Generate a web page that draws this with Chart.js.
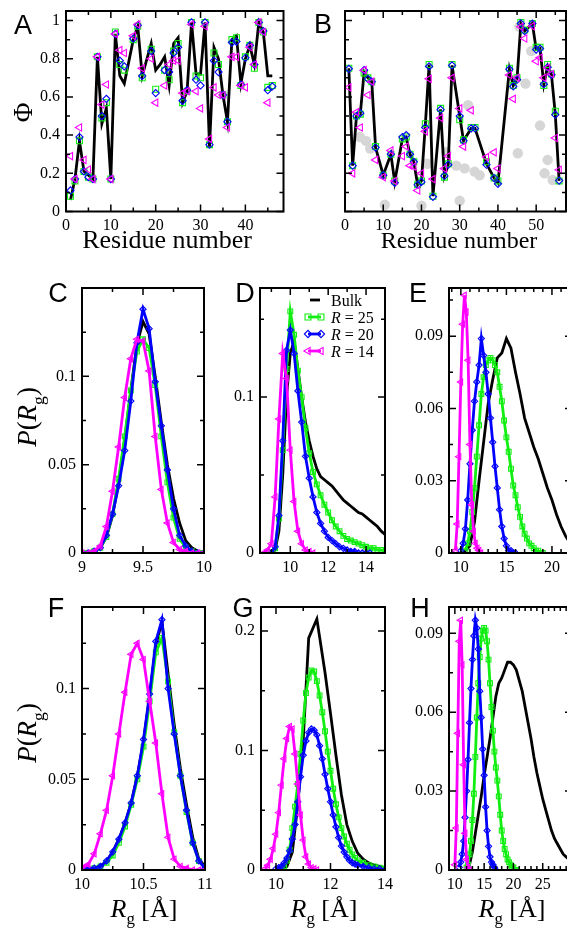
<!DOCTYPE html>
<html>
<head>
<meta charset="utf-8">
<script src="https://cdn.jsdelivr.net/npm/chart.js@4.4.0/dist/chart.umd.min.js"></script>
<style>
  html, body { margin: 0; padding: 0; background: #fff; width: 567px; height: 929px; overflow: hidden; position: relative; }
  canvas { position: absolute; }
</style>
</head>
<body>
<script>
// ---- panel A: phi values per residue (1..46) ----
const aBulk = [0.06, 0.17, 0.37, 0.21, 0.19, 0.17, 0.81, 0.46, 0.54, 0.17,
  0.93, 0.71, 0.67, null, 0.90, 0.97, 0.71, null, 0.88, 0.74,
  0.77, 0.81, 0.66, 0.88, 0.91, 0.57, 0.63, 0.99, 0.72, 0.72,
  0.99, 0.34, 0.86, 0.80, 0.61, 0.47, 0.90, 0.92, 0.67, 0.80,
  0.87, 0.77, 0.99, 0.94, 0.71, 0.71];
const aR25 = [0.08, 0.16, 0.37, 0.21, 0.18, 0.17, 0.81, 0.49, 0.57, 0.17,
  0.94, 0.77, 0.74, null, 0.90, 0.97, 0.70, null, 0.85, 0.64,
  null, 0.74, 0.69, 0.84, 0.88, 0.57, 0.63, 0.99, 0.71, 0.70,
  0.99, 0.35, 0.83, 0.77, 0.61, 0.47, 0.90, 0.91, 0.66, 0.81,
  0.87, 0.75, 0.99, 0.94, 0.65, 0.66];
const aR20 = [0.11, 0.17, 0.39, 0.21, 0.18, 0.17, 0.81, 0.50, 0.59, 0.17,
  0.93, 0.79, 0.76, null, 0.905, 0.975, 0.71, null, 0.84, 0.62,
  null, 0.74, 0.73, 0.83, 0.86, 0.58, 0.635, 0.99, 0.69, 0.66,
  0.99, 0.35, 0.79, 0.73, 0.61, 0.47, 0.885, 0.89, 0.665, 0.805,
  0.87, 0.77, 0.99, 0.945, 0.635, 0.655];
const aR14 = [0.29, 0.17, 0.44, 0.27, 0.22, 0.17, 0.81, 0.56, 0.665, 0.17,
  0.93, 0.845, 0.83, null, 0.92, 0.98, 0.75, null, 0.80, 0.57,
  null, 0.66, 0.77, 0.79, 0.79, 0.62, 0.63, 0.98, 0.63, 0.54,
  0.97, 0.38, 0.65, 0.61, 0.61, 0.44, 0.81, 0.81, 0.66, 0.65,
  0.86, 0.77, 0.99, 0.94, 0.57, null];

// ---- panel B: phi values per residue (1..56) ----
const bBulk = [0.75, 0.24, 0.50, 0.51, 0.73, 0.70, 0.68, 0.335, null, 0.19,
  null, 0.30, 0.155, null, 0.38, 0.39, 0.30, 0.26, 0.14, 0.16,
  0.45, 0.77, 0.08, null, 0.535, 0.185, 0.245, 0.765, null, 0.50,
  0.37, null, 0.435, 0.435, null, null, 0.25, null, 0.175, 0.15,
  null, null, 0.745, 0.66, 0.695, 0.985, 0.945, null, 0.985, 0.85,
  0.855, 0.665, 0.76, 0.715, 0.51, 0.16];
const bR25 = [0.75, 0.24, 0.50, 0.51, 0.725, 0.70, 0.68, 0.34, null, 0.19,
  null, 0.30, 0.16, null, 0.38, 0.39, 0.30, 0.26, 0.14, 0.16,
  0.46, 0.77, 0.08, null, 0.54, 0.18, 0.25, 0.77, null, 0.48,
  0.375, null, 0.44, 0.44, null, null, 0.26, null, 0.175, 0.16,
  null, null, 0.75, 0.66, 0.70, 0.99, 0.95, null, 0.985, 0.86,
  0.86, 0.66, 0.77, 0.72, 0.525, 0.16];
const bR20 = [0.747, 0.24, 0.50, 0.515, 0.74, 0.695, 0.68, 0.335, null, 0.19,
  null, 0.30, 0.15, null, 0.39, 0.40, 0.30, 0.26, 0.14, 0.155,
  0.44, 0.76, 0.077, null, 0.533, 0.186, 0.245, 0.765, null, 0.50,
  0.37, null, 0.435, 0.435, null, null, 0.245, null, 0.175, 0.145,
  null, null, 0.745, 0.655, 0.69, 0.985, 0.945, null, 0.984, 0.848,
  0.853, 0.667, 0.755, 0.716, 0.507, 0.162];
const bR14 = [0.65, 0.20, 0.52, 0.44, 0.74, 0.61, 0.68, 0.27, null, 0.18,
  null, 0.32, 0.16, null, 0.29, 0.34, 0.24, 0.235, 0.11, 0.20,
  0.42, 0.695, 0.17, null, 0.49, 0.225, 0.29, 0.70, null, 0.54,
  0.34, null, 0.53, null, null, null, 0.285, null, 0.31, 0.225,
  null, null, 0.715, 0.59, 0.70, 0.967, 0.906, null, 0.97, 0.787,
  0.805, 0.70, 0.753, 0.72, 0.385, 0.218];
// grey discs behind panel B: [residue, phi]
const bGray = [[3.9, 0.39], [5.5, 0.37], [6.6, 0.33], [10.4, 0.035], [20, 0.03], [21.5, 0.25],
  [26.5, 0.31], [29.1, 0.24], [30, 0.056], [31.3, 0.226], [32.2, 0.557], [33.9, 0.209],
  [35.2, 0.19], [45.2, 0.305], [45.6, 0.967], [47.2, 0.67], [48.7, 0.84], [51, 0.45],
  [52.2, 0.2], [53, 0.27], [54.3, 0.165]];

// ---- panel C: P(Rg) ----
const cRg = [9.00, 9.05, 9.10, 9.15, 9.20, 9.25, 9.30, 9.35, 9.40, 9.45, 9.50,
  9.55, 9.60, 9.65, 9.70, 9.75, 9.80, 9.85, 9.90, 9.95, 10.00];
const cBulk = [0, 0, 0.001, 0.003, 0.009, 0.021, 0.040, 0.064, 0.092, 0.118, 0.131,
  0.124, 0.100, 0.074, 0.050, 0.031, 0.017, 0.007, 0.003, 0.001, 0];
const cR25 = [0, 0, 0.001, 0.003, 0.009, 0.022, 0.042, 0.066, 0.092, 0.114, 0.121,
  0.116, 0.095, 0.066, 0.040, 0.020, 0.008, 0.003, 0.001, 0, 0];
const cR20 = [0, 0, 0.001, 0.003, 0.010, 0.022, 0.038, 0.058, 0.086, 0.119, 0.138,
  0.127, 0.097, 0.072, 0.047, 0.025, 0.010, 0.004, 0.001, 0, 0];
const cR14 = [0, 0, 0.001, 0.004, 0.015, 0.035, 0.060, 0.088, 0.110, 0.121, 0.120,
  0.103, 0.066, 0.036, 0.017, 0.006, 0.002, 0.001, 0, 0, 0];

// ---- panel D ----
const dRg = [8.6, 8.8, 9.0, 9.2, 9.4, 9.6, 9.8, 10.0, 10.2, 10.4, 10.6, 10.8, 11.0,
  11.2, 11.4, 11.6, 11.8, 12.0, 12.2, 12.4, 12.6, 12.8, 13.0, 13.2, 13.4, 13.6,
  13.8, 14.0, 14.2, 14.4, 14.6, 14.8, 15.0];
const dBulk = [null, null, 0, 0.002, 0.014, 0.050, 0.100, 0.128, 0.136, 0.118, 0.100, 0.084, 0.072,
  0.062, 0.054, 0.049, 0.047, 0.045, 0.043, 0.040, 0.037, 0.034, 0.032, 0.030, 0.028, 0.026,
  0.025, 0.023, 0.021, 0.019, 0.017, 0.014, 0.012];
const dR25 = [null, null, 0, 0.003, 0.022, 0.066, 0.118, 0.155, 0.140, 0.117, 0.100, 0.080, 0.064,
  0.052, 0.044, 0.037, 0.031, 0.026, 0.021, 0.017, 0.014, 0.011, 0.009, 0.008, 0.007, 0.006,
  0.005, 0.004, 0.003, 0.003, 0.002, 0.002, 0.001];
const dR20 = [null, null, 0, 0.004, 0.024, 0.072, 0.130, 0.143, 0.128, 0.104, 0.084, 0.062, 0.048,
  0.036, 0.026, 0.019, 0.014, 0.010, 0.008, 0.006, 0.004, 0.003, 0.002, 0.001, 0.001, 0,
  0, 0, 0, null, null, null, null];
const dR14 = [0, 0.002, 0.006, 0.036, 0.086, 0.128, 0.112, 0.066, 0.033, 0.014, 0.006, 0.002, 0.001,
  0, null, null, null, null, null, null, null, null, null, null, null, null,
  null, null, null, null, null, null, null];

// ---- panel E: [Rg, P] ----
const eBulk = [[10.0, 0], [10.5, 0.001], [11.0, 0.003], [11.5, 0.013], [12.0, 0.030], [12.5, 0.046],
  [13.0, 0.062], [13.5, 0.072], [14.0, 0.081], [14.5, 0.083], [15.0, 0.089], [15.5, 0.085],
  [16.0, 0.075], [16.5, 0.066], [17.0, 0.056], [17.5, 0.050], [18.0, 0.044], [18.5, 0.039],
  [19.0, 0.033], [19.5, 0.027], [20.0, 0.022], [20.5, 0.016], [21.0, 0.011], [21.5, 0.007], [22.0, 0.004]];
const eR25 = [[10.5, 0.001], [10.75, 0.004], [11.0, 0.009], [11.25, 0.017], [11.5, 0.027], [11.75, 0.040],
  [12.0, 0.053], [12.25, 0.066], [12.5, 0.073], [12.75, 0.078], [13.0, 0.080], [13.25, 0.081],
  [13.5, 0.080], [13.75, 0.078], [14.0, 0.075], [14.25, 0.069], [14.5, 0.063], [14.75, 0.055],
  [15.0, 0.048], [15.25, 0.042], [15.5, 0.035], [15.75, 0.028], [16.0, 0.024], [16.25, 0.019],
  [16.5, 0.015], [16.75, 0.011], [17.0, 0.008], [17.25, 0.006], [17.5, 0.004], [17.75, 0.003],
  [18.0, 0.002], [18.25, 0.001], [18.5, 0.001], [18.75, 0], [19.0, 0]];
const eR20 = [[10.0, 0.001], [10.25, 0.004], [10.5, 0.010], [10.75, 0.022], [11.0, 0.037], [11.25, 0.051],
  [11.5, 0.063], [11.75, 0.071], [12.0, 0.078], [12.25, 0.089], [12.5, 0.082], [12.75, 0.075],
  [13.0, 0.066], [13.25, 0.056], [13.5, 0.046], [13.75, 0.036], [14.0, 0.027], [14.25, 0.018],
  [14.5, 0.011], [14.75, 0.006], [15.0, 0.003], [15.25, 0.001], [15.5, 0.001], [15.75, 0], [16.0, 0]];
const eR14 = [[9.4, 0.001], [9.6, 0.012], [9.8, 0.040], [10.0, 0.071], [10.2, 0.095], [10.4, 0.107],
  [10.6, 0.100], [10.8, 0.080], [11.0, 0.045], [11.2, 0.020], [11.4, 0.009], [11.6, 0.004],
  [11.8, 0.002], [12.0, 0.001], [12.2, 0]];

// ---- panel F ----
const fRg = [10.00, 10.05, 10.10, 10.15, 10.20, 10.25, 10.30, 10.35, 10.40, 10.45, 10.50,
  10.55, 10.60, 10.65, 10.70, 10.75, 10.80, 10.85, 10.90, 10.95, 11.00];
const fBulk = [0, 0, 0.001, 0.002, 0.005, 0.010, 0.017, 0.026, 0.037, 0.052, 0.071,
  0.096, 0.124, 0.137, 0.108, 0.080, 0.056, 0.036, 0.018, 0.006, 0.002];
const fR25 = [0, 0, 0.001, 0.002, 0.004, 0.008, 0.015, 0.024, 0.036, 0.050, 0.068,
  0.093, 0.120, 0.128, 0.104, 0.076, 0.052, 0.032, 0.015, 0.005, 0.001];
const fR20 = [0, 0.001, 0.001, 0.002, 0.005, 0.010, 0.017, 0.026, 0.037, 0.052, 0.072,
  0.097, 0.126, 0.138, 0.100, 0.075, 0.052, 0.033, 0.015, 0.005, 0.001];
const fR14 = [0.001, 0.003, 0.009, 0.020, 0.033, 0.052, 0.075, 0.098, 0.119, 0.125, 0.116,
  0.093, 0.070, 0.042, 0.018, 0.006, 0.002, 0.001, 0, 0, 0];

// ---- panel G: [Rg, P] ----
const gBulk = [[10.2, 0.001], [10.4, 0.003], [10.6, 0.015], [10.8, 0.055], [11.0, 0.109], [11.2, 0.194],
  [11.5, 0.210], [11.6, 0.195], [11.8, 0.165], [12.0, 0.131], [12.2, 0.096], [12.4, 0.063],
  [12.6, 0.038], [12.8, 0.024], [13.0, 0.014], [13.2, 0.009], [13.4, 0.006], [13.6, 0.004],
  [13.8, 0.003], [14.0, 0.002]];
const gR25 = [[10.2, 0.001], [10.3, 0.003], [10.4, 0.008], [10.5, 0.017], [10.6, 0.035], [10.7, 0.053],
  [10.8, 0.072], [10.9, 0.097], [11.0, 0.125], [11.1, 0.148], [11.2, 0.161], [11.3, 0.167],
  [11.4, 0.166], [11.5, 0.158], [11.6, 0.146], [11.7, 0.132], [11.8, 0.116], [11.9, 0.099],
  [12.0, 0.083], [12.1, 0.068], [12.2, 0.055], [12.3, 0.044], [12.4, 0.035], [12.5, 0.028],
  [12.6, 0.022], [12.7, 0.017], [12.8, 0.013], [12.9, 0.010], [13.0, 0.008], [13.2, 0.006],
  [13.4, 0.004], [13.6, 0.003], [13.8, 0.002], [14.0, 0.001]];
const gR20 = [[10.0, 0.001], [10.1, 0.002], [10.2, 0.003], [10.3, 0.006], [10.4, 0.010], [10.5, 0.016],
  [10.6, 0.026], [10.7, 0.038], [10.8, 0.057], [10.9, 0.078], [11.0, 0.096], [11.1, 0.108],
  [11.2, 0.115], [11.3, 0.118], [11.4, 0.117], [11.5, 0.113], [11.6, 0.104], [11.7, 0.093],
  [11.8, 0.080], [11.9, 0.068], [12.0, 0.057], [12.1, 0.046], [12.2, 0.036], [12.3, 0.027],
  [12.4, 0.020], [12.5, 0.015], [12.6, 0.011], [12.7, 0.008], [12.8, 0.006], [12.9, 0.005],
  [13.0, 0.004], [13.2, 0.003], [13.4, 0.002], [13.6, 0.001], [13.8, 0.001], [14.0, 0]];
const gR14 = [[9.6, 0.001], [9.7, 0.004], [9.8, 0.009], [9.9, 0.018], [10.0, 0.030], [10.1, 0.048],
  [10.2, 0.071], [10.3, 0.093], [10.4, 0.110], [10.5, 0.120], [10.6, 0.118], [10.7, 0.097],
  [10.8, 0.072], [10.9, 0.046], [11.0, 0.025], [11.1, 0.011], [11.2, 0.005], [11.3, 0.002],
  [11.4, 0.001], [11.5, 0]];

// ---- panel H: [Rg, P] ----
const hBulk = [[12.0, 0], [12.5, 0.002], [13.0, 0.007], [13.5, 0.014], [14.0, 0.021], [14.5, 0.028],
  [15.0, 0.036], [15.5, 0.043], [16.0, 0.050], [16.5, 0.058], [17.0, 0.066], [17.5, 0.071],
  [18.0, 0.073], [18.5, 0.076], [19.0, 0.079], [19.5, 0.079], [20.0, 0.078], [20.5, 0.076],
  [21.0, 0.072], [21.5, 0.068], [22.0, 0.062], [22.5, 0.056], [23.0, 0.050], [23.5, 0.043],
  [24.0, 0.037], [24.5, 0.032], [25.0, 0.027], [25.5, 0.023], [26.0, 0.019], [26.5, 0.015],
  [27.0, 0.012], [27.5, 0.010], [28.0, 0.008], [28.5, 0.006], [29.0, 0.005], [29.5, 0.004], [30.0, 0.003]];
const hR25 = [[12.0, 0.001], [12.25, 0.002], [12.5, 0.006], [12.75, 0.011], [13.0, 0.019], [13.25, 0.029],
  [13.5, 0.043], [13.75, 0.058], [14.0, 0.071], [14.25, 0.081], [14.5, 0.088], [14.75, 0.091],
  [15.0, 0.092], [15.25, 0.091], [15.5, 0.087], [15.75, 0.080], [16.0, 0.071], [16.25, 0.062],
  [16.5, 0.053], [16.75, 0.045], [17.0, 0.039], [17.25, 0.034], [17.5, 0.028], [17.75, 0.021],
  [18.0, 0.015], [18.25, 0.011], [18.5, 0.008], [18.75, 0.006], [19.0, 0.004], [19.25, 0.003],
  [19.5, 0.002], [19.75, 0.001], [20.0, 0.001], [20.25, 0], [20.5, 0]];
const hR20 = [[10.75, 0.001], [11.0, 0.003], [11.25, 0.006], [11.5, 0.011], [11.75, 0.020], [12.0, 0.030],
  [12.25, 0.042], [12.5, 0.056], [12.75, 0.069], [13.0, 0.080], [13.25, 0.089], [13.5, 0.095],
  [13.75, 0.092], [14.0, 0.084], [14.25, 0.068], [14.5, 0.058], [14.75, 0.046], [15.0, 0.036],
  [15.25, 0.024], [15.5, 0.015], [15.75, 0.009], [16.0, 0.005], [16.25, 0.003], [16.5, 0.002],
  [16.75, 0.001], [17.0, 0]];
const hR14 = [[10.0, 0.002], [10.25, 0.016], [10.5, 0.052], [10.75, 0.087], [11.0, 0.095], [11.25, 0.078],
  [11.5, 0.040], [11.75, 0.014], [12.0, 0.004], [12.25, 0.001], [12.5, 0]];

// tick labels
const aXTicks = [0, 10, 20, 30, 40], aYTicks = [0, 0.2, 0.4, 0.6, 0.8, 1];
const bXTicks = [0, 10, 20, 30, 40, 50], bYTicks = [];
const cXTicks = [9, 9.5, 10], cYTicks = [0, 0.05, 0.1];
const dXTicks = [10, 12, 14], dYTicks = [0, 0.1];
const eXTicks = [10, 15, 20], eYTicks = [0, 0.03, 0.06, 0.09];
const fXTicks = [10, 10.5, 11], fYTicks = [0, 0.05, 0.1];
const gXTicks = [10, 12, 14], gYTicks = [0, 0.1, 0.2];
const hXTicks = [10, 15, 20, 25], hYTicks = [0, 0.03, 0.06, 0.09];

const SERIF = '"Liberation Serif", "Times New Roman", serif';
const SANS = '"Liberation Sans", Arial, sans-serif';
const GREEN = '#11ee11', BLUE = '#0000ff', MAGENTA = '#ff00ff';
const ML = 72, MT = 40, MR = 14, MB = 70;

const onRes = vals => vals.map((v, i) => ({ x: i + 1, y: v }));
const onGrid = (xs, ys) => xs.map((x, i) => ({ x: x, y: ys[i] }));
const fromPairs = ps => ps.map(p => ({ x: p[0], y: p[1] }));

// marker styles, small (distributions) and large (phi panels)
const MK = {
  r25: { color: GREEN, style: 'rect', rot: 0, r: 3.4, R: 4.2 },
  r20: { color: BLUE, style: 'rectRot', rot: 0, r: 3.1, R: 3.6 },
  r14: { color: MAGENTA, style: 'triangle', rot: 270, r: 3.5, R: 4.2 }
};

function bulkSet(data) {
  return { data, borderColor: '#000', borderWidth: 2.8, pointRadius: 0, spanGaps: true, tension: 0, order: 4 };
}
function markSet(data, key, big, withLine) {
  const m = MK[key];
  return {
    data, showLine: withLine, borderColor: m.color, borderWidth: 2.8, tension: 0,
    pointStyle: m.style, pointRotation: m.rot, pointRadius: big ? m.R : m.r,
    pointBorderColor: m.color, pointBackgroundColor: 'rgba(0,0,0,0)', pointBorderWidth: 1.1,
    order: key === 'r14' ? 1 : key === 'r20' ? 2 : 3
  };
}
function grayDisc(data) {
  return { data, showLine: false, pointRadius: 5.2, pointBackgroundColor: '#d6d6d6', pointBorderWidth: 0, order: 6 };
}

function drawRuns(ctx, runs, x, y, size, rot) {
  ctx.save();
  ctx.translate(x, y);
  if (rot) ctx.rotate(-Math.PI / 2);
  ctx.textAlign = 'left';
  ctx.textBaseline = 'alphabetic';
  ctx.fillStyle = '#000';
  const fontOf = r => (r.it ? 'italic ' : '') + (r.sub ? size * 0.65 : size) + 'px ' + (r.fam || SERIF);
  let total = 0;
  runs.forEach(r => { ctx.font = fontOf(r); total += ctx.measureText(r.t).width; });
  let cx = -total / 2;
  runs.forEach(r => {
    ctx.font = fontOf(r);
    ctx.fillText(r.t, cx, r.sub ? size * 0.28 : 0);
    cx += ctx.measureText(r.t).width;
  });
  ctx.restore();
}

function tickLoop(scale, major, minor, fn) {
  const k0 = Math.ceil(scale.min / minor - 1e-6), k1 = Math.floor(scale.max / minor + 1e-6);
  for (let k = k0; k <= k1; k++) {
    const v = k * minor;
    const isMajor = Math.abs(v / major - Math.round(v / major)) < 1e-6;
    fn(scale.getPixelForValue(v), isMajor ? 7 : 4);
  }
}

function decor(p, ox, oy) {
  return {
    id: 'decor',
    afterDraw(chart) {
      const ctx = chart.ctx, a = chart.chartArea, xs = chart.scales.x, ys = chart.scales.y;
      ctx.save();
      ctx.strokeStyle = '#000';
      ctx.lineWidth = 1.5;
      ctx.beginPath();
      tickLoop(xs, p.x.major, p.x.minor, (px, len) => {
        ctx.moveTo(px, a.bottom); ctx.lineTo(px, a.bottom - len);
        ctx.moveTo(px, a.top); ctx.lineTo(px, a.top + len);
      });
      tickLoop(ys, p.y.major, p.y.minor, (py, len) => {
        ctx.moveTo(a.left, py); ctx.lineTo(a.left + len, py);
        ctx.moveTo(a.right, py); ctx.lineTo(a.right - len, py);
      });
      ctx.stroke();
      ctx.lineWidth = 2;
      ctx.strokeRect(a.left, a.top, a.right - a.left, a.bottom - a.top);
      // panel letter
      drawRuns(ctx, [{ t: p.letter.t, fam: SANS }], p.letter.x - ox, p.letter.y - oy, 27, false);
      (p.titles || []).forEach(t => drawRuns(ctx, t.runs, t.x - ox, t.y - oy, t.size, t.rot));
      if (p.legend) drawLegend(ctx, ox, oy);
      ctx.restore();
    }
  };
}

function drawLegend(ctx, ox, oy) {
  const rows = [
    { y: 300, tb: 306, key: null, label: [{ t: 'Bulk' }] },
    { y: 317, tb: 323, key: 'r25', label: [{ t: 'R', it: true }, { t: ' = 25' }] },
    { y: 334, tb: 340, key: 'r20', label: [{ t: 'R', it: true }, { t: ' = 20' }] },
    { y: 351, tb: 357, key: 'r14', label: [{ t: 'R', it: true }, { t: ' = 14' }] }
  ];
  rows.forEach(r => {
    ctx.save();
    ctx.lineWidth = 2.8;
    if (!r.key) {
      ctx.strokeStyle = '#000';
      ctx.beginPath(); ctx.moveTo(310 - ox, r.y - oy); ctx.lineTo(320 - ox, r.y - oy); ctx.stroke();
    } else {
      const m = MK[r.key];
      ctx.strokeStyle = m.color;
      ctx.beginPath(); ctx.moveTo(308 - ox, r.y - oy); ctx.lineTo(321 - ox, r.y - oy); ctx.stroke();
      ctx.lineWidth = 1.1;
      ctx.fillStyle = 'rgba(0,0,0,0)';
      [308, 321].forEach(px => Chart.helpers.drawPoint(ctx,
        { pointStyle: m.style, rotation: m.rot, radius: m.R, borderWidth: 1.1 }, px - ox, r.y - oy));
    }
    ctx.restore();
    // left aligned text
    ctx.save();
    ctx.fillStyle = '#000';
    ctx.textBaseline = 'alphabetic';
    let cx = 331 - ox;
    r.label.forEach(run => {
      ctx.font = (run.it ? 'italic ' : '') + '16px ' + SERIF;
      ctx.fillText(run.t, cx, r.tb - oy);
      cx += ctx.measureText(run.t).width;
    });
    ctx.restore();
  });
}

function axis(a, dir) {
  return {
    type: 'linear', min: a.min, max: a.max,
    grid: { display: false, drawTicks: false },
    border: { display: false },
    ticks: {
      display: a.labels.length > 0,
      font: { family: SERIF, size: 16 }, color: '#000',
      padding: dir === 'x' ? 5 : 6, autoSkip: false, maxRotation: 0, minRotation: 0,
      callback: v => String(+Number(v).toFixed(3))
    },
    afterBuildTicks: s => { s.ticks = a.labels.map(v => ({ value: v })); },
    afterFit: s => { if (dir === 'x') s.height = MB; else s.width = ML; }
  };
}

function makePanel(p) {
  const cv = document.createElement('canvas');
  const w = Math.round(p.box.r - p.box.l + ML + MR);
  const h = Math.round(p.box.b - p.box.t + MT + MB);
  const ox = p.box.l - ML, oy = p.box.t - MT;
  cv.width = w; cv.height = h;
  cv.style.width = w + 'px'; cv.style.height = h + 'px';
  cv.style.left = ox + 'px'; cv.style.top = oy + 'px';
  document.body.appendChild(cv);
  new Chart(cv, {
    type: 'line',
    data: { datasets: p.datasets },
    options: {
      responsive: false, animation: false, events: [],
      layout: { padding: { left: 0, top: MT, right: w - ML - (p.box.r - p.box.l), bottom: h - MB - MT - (p.box.b - p.box.t) } },
      plugins: { legend: { display: false }, tooltip: { enabled: false } },
      scales: { x: axis(p.x, 'x'), y: axis(p.y, 'y') }
    },
    plugins: [decor(p, ox, oy)]
  });
}

const RG = [{ t: 'R', it: true }, { t: 'g', sub: true }, { t: ' [Å]' }];
const PRG = [{ t: 'P', it: true }, { t: '(' }, { t: 'R', it: true }, { t: 'g', sub: true }, { t: ')' }];

makePanel({
  box: { l: 66, t: 10.5, r: 283.5, b: 211 },
  x: { min: 0, max: 48.5, major: 10, minor: 5, labels: aXTicks },
  y: { min: 0, max: 1.05, major: 0.2, minor: 0.1, labels: aYTicks },
  letter: { t: 'A', x: 23, y: 33 },
  titles: [
    { runs: [{ t: 'Φ' }], x: 32, y: 112, size: 27, rot: true },
    { runs: [{ t: 'Residue number' }], x: 167, y: 247, size: 26 }
  ],
  datasets: [
    markSet(onRes(aR14), 'r14', true, false),
    markSet(onRes(aR20), 'r20', true, false),
    markSet(onRes(aR25), 'r25', true, false),
    bulkSet(onRes(aBulk))
  ]
});

makePanel({
  box: { l: 345, t: 10.5, r: 566, b: 211 },
  x: { min: 0, max: 57.8, major: 10, minor: 5, labels: bXTicks },
  y: { min: 0, max: 1.05, major: 0.2, minor: 0.1, labels: bYTicks },
  letter: { t: 'B', x: 323, y: 32 },
  titles: [{ runs: [{ t: 'Residue number' }], x: 459, y: 247, size: 24 }],
  datasets: [
    markSet(onRes(bR14), 'r14', true, false),
    markSet(onRes(bR20), 'r20', true, false),
    markSet(onRes(bR25), 'r25', true, false),
    bulkSet(onRes(bBulk)),
    grayDisc(fromPairs(bGray))
  ]
});

makePanel({
  box: { l: 82, t: 288, r: 204, b: 553 },
  x: { min: 9, max: 10, major: 0.5, minor: 0.25, labels: cXTicks },
  y: { min: 0, max: 0.15, major: 0.05, minor: 0.025, labels: cYTicks },
  letter: { t: 'C', x: 58, y: 302 },
  titles: [{ runs: PRG, x: 36, y: 417, size: 27, rot: true }],
  datasets: [
    markSet(onGrid(cRg, cR14), 'r14', false, true),
    markSet(onGrid(cRg, cR20), 'r20', false, true),
    markSet(onGrid(cRg, cR25), 'r25', false, true),
    bulkSet(onGrid(cRg, cBulk))
  ]
});

makePanel({
  box: { l: 260, t: 288, r: 385, b: 553 },
  x: { min: 8.4, max: 15, major: 2, minor: 1, labels: dXTicks },
  y: { min: 0, max: 0.17, major: 0.1, minor: 0.05, labels: dYTicks },
  letter: { t: 'D', x: 245, y: 302 },
  legend: true,
  datasets: [
    markSet(onGrid(dRg, dR14), 'r14', false, true),
    markSet(onGrid(dRg, dR20), 'r20', false, true),
    markSet(onGrid(dRg, dR25), 'r25', false, true),
    bulkSet(onGrid(dRg, dBulk))
  ]
});

makePanel({
  box: { l: 449, t: 288, r: 572, b: 553 },
  x: { min: 8.7, max: 22.2, major: 5, minor: 1, labels: eXTicks },
  y: { min: 0, max: 0.11, major: 0.03, minor: 0.015, labels: eYTicks },
  letter: { t: 'E', x: 418, y: 302 },
  datasets: [
    markSet(fromPairs(eR14), 'r14', false, true),
    markSet(fromPairs(eR20), 'r20', false, true),
    markSet(fromPairs(eR25), 'r25', false, true),
    bulkSet(fromPairs(eBulk))
  ]
});

makePanel({
  box: { l: 82, t: 607, r: 205, b: 870 },
  x: { min: 10, max: 11, major: 0.5, minor: 0.25, labels: fXTicks },
  y: { min: 0, max: 0.145, major: 0.05, minor: 0.025, labels: fYTicks },
  letter: { t: 'F', x: 56, y: 617 },
  titles: [
    { runs: PRG, x: 36, y: 733, size: 27, rot: true },
    { runs: RG, x: 144, y: 917, size: 26 }
  ],
  datasets: [
    markSet(onGrid(fRg, fR14), 'r14', false, true),
    markSet(onGrid(fRg, fR20), 'r20', false, true),
    markSet(onGrid(fRg, fR25), 'r25', false, true),
    bulkSet(onGrid(fRg, fBulk))
  ]
});

makePanel({
  box: { l: 261, t: 607, r: 385, b: 870 },
  x: { min: 9.45, max: 14, major: 2, minor: 1, labels: gXTicks },
  y: { min: 0, max: 0.22, major: 0.1, minor: 0.05, labels: gYTicks },
  letter: { t: 'G', x: 243, y: 617 },
  titles: [{ runs: RG, x: 324, y: 917, size: 26 }],
  datasets: [
    markSet(fromPairs(gR14), 'r14', false, true),
    markSet(fromPairs(gR20), 'r20', false, true),
    markSet(fromPairs(gR25), 'r25', false, true),
    bulkSet(fromPairs(gBulk))
  ]
});

makePanel({
  box: { l: 449, t: 607, r: 572, b: 870 },
  x: { min: 9, max: 30, major: 5, minor: 1, labels: hXTicks },
  y: { min: 0, max: 0.1, major: 0.03, minor: 0.015, labels: hYTicks },
  letter: { t: 'H', x: 420, y: 617 },
  titles: [{ runs: RG, x: 512, y: 917, size: 26 }],
  datasets: [
    markSet(fromPairs(hR14), 'r14', false, true),
    markSet(fromPairs(hR20), 'r20', false, true),
    markSet(fromPairs(hR25), 'r25', false, true),
    bulkSet(fromPairs(hBulk))
  ]
});
</script>
</body>
</html>
